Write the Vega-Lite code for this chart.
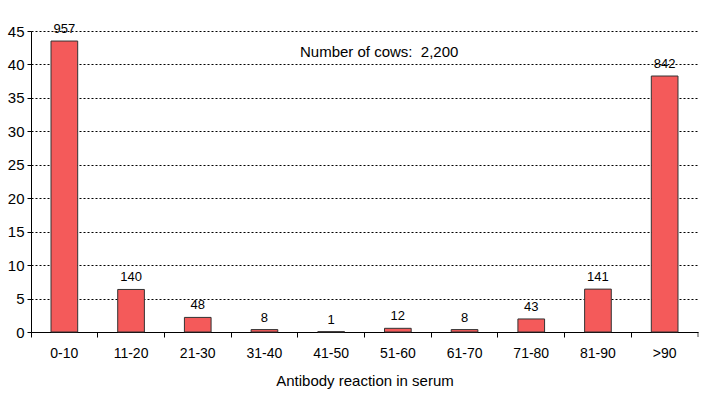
{
  "$schema": "https://vega.github.io/schema/vega-lite/v6.json",
  "autosize": "none",
  "width": 667,
  "height": 301,
  "padding": {"left": 31, "top": 31, "right": 20, "bottom": 67},
  "background": "white",
  "config": {
    "view": {"stroke": null},
    "font": "Liberation Sans",
    "axis": {"labelFont": "Liberation Sans", "titleFont": "Liberation Sans", "labelColor": "#000", "titleColor": "#000", "domainColor": "#000", "tickColor": "#000"}
  },
  "data": {"values": [
    {"range": "0-10", "count": 957, "percent": 43.5},
    {"range": "11-20", "count": 140, "percent": 6.36},
    {"range": "21-30", "count": 48, "percent": 2.18},
    {"range": "31-40", "count": 8, "percent": 0.36},
    {"range": "41-50", "count": 1, "percent": 0.05},
    {"range": "51-60", "count": 12, "percent": 0.55},
    {"range": "61-70", "count": 8, "percent": 0.36},
    {"range": "71-80", "count": 43, "percent": 1.95},
    {"range": "81-90", "count": 141, "percent": 6.41},
    {"range": ">90", "count": 842, "percent": 38.27}
  ]},
  "encoding": {
    "x": {"field": "range", "type": "nominal", "sort": null,
      "scale": {"paddingInner": 0, "paddingOuter": 0},
      "axis": {"title": "Antibody reaction in serum", "titleFontSize": 15, "titleFontWeight": "normal", "titlePadding": 13,
        "labelFontSize": 14, "labelAngle": 0, "labelPadding": 9, "bandPosition": 0, "tickSize": 5, "domainWidth": 1, "grid": false}},
    "y": {"field": "percent", "type": "quantitative",
      "scale": {"domain": [0, 45], "nice": false},
      "axis": {"title": null, "values": [0,5,10,15,20,25,30,35,40,45], "labelOverlap": false, "labelFontSize": 15, "labelPadding": 3, "tickSize": 4,
        "grid": true, "gridColor": "#000", "gridDash": [2, 2], "gridWidth": 1, "domainWidth": 1}}
  },
  "layer": [
    {
      "mark": {"type": "bar", "width": {"band": 0.4}, "fill": "#f45a5a", "stroke": "#333", "strokeWidth": 1}
    },
    {
      "mark": {"type": "text", "baseline": "bottom", "dy": -5, "fontSize": 13, "fill": "#000"},
      "encoding": {
        "text": {"field": "count", "type": "quantitative", "format": "d"}
      }
    },
    {
      "transform": [{"filter": "datum.range == '51-60'"}],
      "mark": {"type": "text", "fontSize": 15, "fill": "#000", "align": "center", "baseline": "middle"},
      "encoding": {
        "x": {"field": "range", "type": "nominal", "sort": null, "bandPosition": 0.22},
        "y": {"datum": 41.8},
        "text": {"value": "Number of cows:\u00a0 2,200"}
      }
    },
    {
      "transform": [{"filter": "datum.range == '>90'"}],
      "mark": {"type": "tick", "orient": "vertical", "size": 5, "color": "#000", "yOffset": 2.5, "thickness": 1},
      "encoding": {
        "x": {"field": "range", "type": "nominal", "sort": null, "bandPosition": 1},
        "y": {"datum": 0}
      }
    }
  ]
}
